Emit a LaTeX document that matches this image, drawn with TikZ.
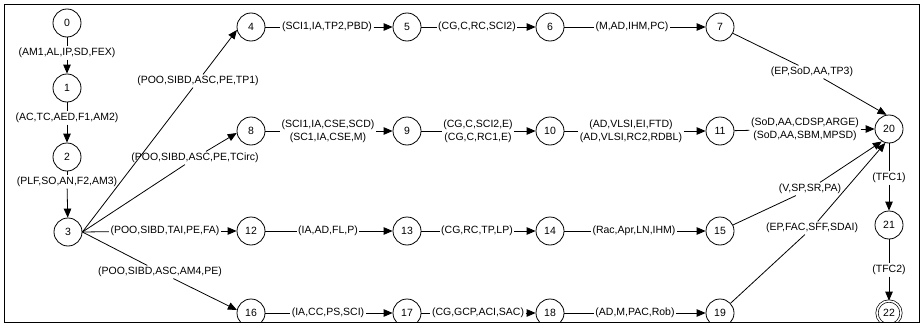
\documentclass[tikz,border=0pt]{standalone}
\usepackage{fontspec}
\setmainfont{Liberation Sans}
\usetikzlibrary{arrows.meta}
\begin{document}
\begin{tikzpicture}[x=1pt,y=-1pt,
  st/.style={circle,draw,line width=0.8pt,minimum size=28pt,inner sep=0pt,font=\fontsize{10.5}{13}\selectfont},
  fin/.style={circle,draw,double,double distance=1.6pt,line width=0.7pt,minimum size=24pt,inner sep=0pt,font=\fontsize{10.5}{13}\selectfont},
  lab/.style={inner sep=1.5pt,font=\fontsize{10.5}{13}\selectfont,align=center},
  ed/.style={line width=0.8pt},
  arr/.style={ed,-{Triangle[length=9pt,width=7.5pt]}}]
\useasboundingbox (0,0) rectangle (922,332);
\begin{scope}
\clip (4.5,4.5) rectangle (919,322);
% states
\node[st] (n0) at (67,23) {0};
\node[st] (n1) at (67,88) {1};
\node[st] (n2) at (67,157) {2};
\node[st] (n3) at (68,232) {3};
\node[st] (n4) at (251,27) {4};
\node[st] (n5) at (407,27) {5};
\node[st] (n6) at (550,27) {6};
\node[st] (n7) at (720,27) {7};
\node[st] (n8) at (251,131) {8};
\node[st] (n9) at (407,131) {9};
\node[st] (n10) at (550,131) {10};
\node[st] (n11) at (720,131) {11};
\node[st] (n20) at (889,129) {20};
\node[st] (n12) at (251,231) {12};
\node[st] (n13) at (407,231) {13};
\node[st] (n14) at (550,231) {14};
\node[st] (n15) at (720,231) {15};
\node[st] (n21) at (889,225) {21};
\node[st] (n16) at (251,313) {16};
\node[st] (n17) at (407,313) {17};
\node[st] (n18) at (550,313) {18};
\node[st] (n19) at (720,313) {19};
\node[fin] (n22) at (889,313) {22};
% labels
\node[lab] (l01) at (67,53) {(AM1,AL,IP,SD,FEX)};
\node[lab] (l12) at (67,118) {(AC,TC,AED,F1,AM2)};
\node[lab] (l23) at (67,182) {(PLF,SO,AN,F2,AM3)};
\node[lab] (l34) at (198,81) {(POO,SIBD,ASC,PE,TP1)};
\node[lab] (l38) at (195,158) {(POO,SIBD,ASC,PE,TCirc)};
\node[lab] (l312) at (165,231) {(POO,SIBD,TAI,PE,FA)};
\node[lab] (l316) at (160,272) {(POO,SIBD,ASC,AM4,PE)};
\node[lab] (l45) at (327,27) {(SCI1,IA,TP2,PBD)};
\node[lab] (l56) at (477,27) {(CG,C,RC,SCI2)};
\node[lab] (l67) at (632,27) {(M,AD,IHM,PC)};
\node[lab] (l89) at (328,131) {(SCI1,IA,CSE,SCD)\\(SC1,IA,CSE,M)};
\node[lab] (l910) at (478,131) {(CG,C,SCI2,E)\\(CG,C,RC1,E)};
\node[lab] (l1011) at (631,131) {(AD,VLSI,EI,FTD)\\(AD,VLSI,RC2,RDBL)};
\node[lab] (l1213) at (328,231) {(IA,AD,FL,P)};
\node[lab] (l1314) at (477,231) {(CG,RC,TP,LP)};
\node[lab] (l1415) at (634,231) {(Rac,Apr,LN,IHM)};
\node[lab] (l1617) at (328,313) {(IA,CC,PS,SCI)};
\node[lab] (l1718) at (478,313) {(CG,GCP,ACI,SAC)};
\node[lab] (l1819) at (635,313) {(AD,M,PAC,Rob)};
\node[lab] (l720) at (812,72) {(EP,SoD,AA,TP3)};
\node[lab] (l1120) at (805,129) {(SoD,AA,CDSP,ARGE)\\(SoD,AA,SBM,MPSD)};
\node[lab] (l1520) at (810,189) {(V,SP,SR,PA)};
\node[lab] (l1920) at (812,228) {(EP,FAC,SFF,SDAI)};
\node[lab] (l2021) at (889,178) {(TFC1)};
\node[lab] (l2122) at (889,270) {(TFC2)};
% edges
\draw[ed] (n0) -- (l01); \draw[arr] (l01) -- (n1);
\draw[ed] (n1) -- (l12); \draw[arr] (l12) -- (n2);
\draw[ed] (n2) -- (l23); \draw[arr] (l23) -- (n3);
\draw[ed] (n3.east) -- (l34); \draw[arr] (l34) -- (n4.192);
\draw[ed] (n3.east) -- (l38); \draw[arr] (l38) -- (n8.188);
\draw[ed] (n3.east) -- (l312); \draw[arr] (l312) -- (n12);
\draw[ed] (n3.east) -- (l316); \draw[arr] (l316) -- (n16.168);
\draw[ed] (n4) -- (l45); \draw[arr] (l45) -- (n5);
\draw[ed] (n5) -- (l56); \draw[arr] (l56) -- (n6);
\draw[ed] (n6) -- (l67); \draw[arr] (l67) -- (n7);
\draw[ed] (n8) -- (l89); \draw[arr] (l89) -- (n9);
\draw[ed] (n9) -- (l910); \draw[arr] (l910) -- (n10);
\draw[ed] (n10) -- (l1011); \draw[arr] (l1011) -- (n11);
\draw[ed] (n12) -- (l1213); \draw[arr] (l1213) -- (n13);
\draw[ed] (n13) -- (l1314); \draw[arr] (l1314) -- (n14);
\draw[ed] (n14) -- (l1415); \draw[arr] (l1415) -- (n15);
\draw[ed] (n16) -- (l1617); \draw[arr] (l1617) -- (n17);
\draw[ed] (n17) -- (l1718); \draw[arr] (l1718) -- (n18);
\draw[ed] (n18) -- (l1819); \draw[arr] (l1819) -- (n19);
\draw[ed] (n7) -- (l720); \draw[arr] (l720) -- (n20.100);
\draw[ed] (n11) -- (l1120); \draw[arr] (l1120) -- (n20);
\draw[ed] (n15) -- (l1520); \draw[arr] (l1520) -- (n20.240);
\draw[ed] (n19) -- (l1920); \draw[arr] (l1920) -- (n20.255);
\draw[ed] (n20) -- (l2021); \draw[arr] (l2021) -- (n21);
\draw[ed] (n21) -- (l2122); \draw[arr] (l2122) -- (n22);
\end{scope}
\draw[line width=0.8pt] (4.5,4.5) rectangle (919,322);
\end{tikzpicture}
\end{document}
